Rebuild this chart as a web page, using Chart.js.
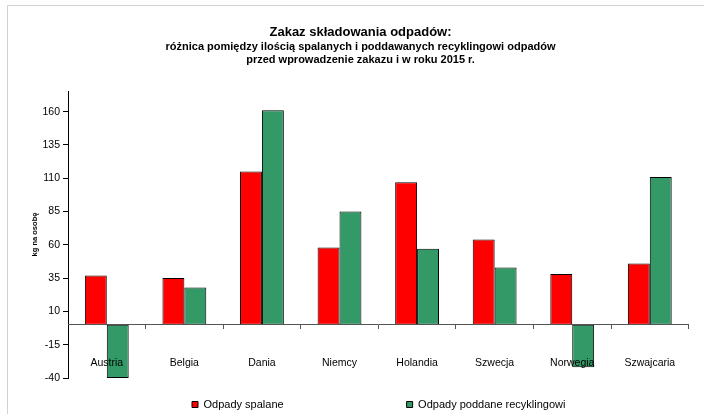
<!DOCTYPE html>
<html>
<head>
<meta charset="utf-8">
<script src="https://cdn.jsdelivr.net/npm/chart.js@4/dist/chart.umd.min.js"></script>
<style>
  html, body { margin: 0; padding: 0; background: #fff; }
  #wrap { position: relative; width: 704px; height: 414px; overflow: hidden; }
  #frame { position: absolute; left: 7px; top: 5px; width: 800px; height: 500px;
           border-left: 1px solid #d2d2d2; border-top: 1px solid #d2d2d2; }
  #c { position: absolute; left: 0; top: 0; }
</style>
</head>
<body>
<div id="wrap">
  <div id="frame"></div>
  <canvas id="c" width="704" height="414"></canvas>
</div>
<script>
const categories = ['Austria', 'Belgia', 'Dania', 'Niemcy', 'Holandia', 'Szwecja', 'Norwegia', 'Szwajcaria'];
const spalane = [37, 35, 115, 58, 107, 64, 38, 46];
const recykling = [-40, 28, 161, 85, 57, 43, -32, 111];
const yTicks = [-40, -15, 10, 35, 60, 85, 110, 135, 160];
const seriesNames = ['Odpady spalane', 'Odpady poddane recyklingowi'];
const titleText = 'Zakaz składowania odpadów:';
const subtitleText = ['różnica pomiędzy ilością spalanych i poddawanych recyklingowi odpadów',
                      'przed wprowadzenie zakazu i w roku 2015 r.'];
const yTitle = 'kg na osobę';

Chart.defaults.font.family = "'Liberation Sans', Arial, sans-serif";
Chart.defaults.color = '#000';

const legendPlace = {
  id: 'legendPlace',
  afterLayout(chart) {
    const lg = chart.legend;
    const pad = lg.options.labels.padding;
    lg.left = 192 - pad;
    lg.right = 704;
    lg.top = 399 - pad;
    lg.bottom = 414;
  }
};

new Chart(document.getElementById('c'), {
  type: 'bar',
  data: {
    labels: categories,
    datasets: [
      { label: seriesNames[0], data: spalane, backgroundColor: '#FF0000',
        borderColor: '#000', borderWidth: 1, borderSkipped: false },
      { label: seriesNames[1], data: recykling, backgroundColor: '#339966',
        borderColor: '#000', borderWidth: 1, borderSkipped: false }
    ]
  },
  plugins: [legendPlace],
  options: {
    responsive: false,
    devicePixelRatio: 1,
    animation: false,
    categoryPercentage: 0.565,
    barPercentage: 1.0,
    layout: { padding: { left: 30, right: 13, top: 0, bottom: 6 } },
    plugins: {
      tooltip: { enabled: false },
      title: {
        display: true, text: titleText, color: '#000',
        font: { size: 13, weight: 'bold', lineHeight: 1.1 },
        padding: { top: 25.5, bottom: 0 }
      },
      subtitle: {
        display: true, text: subtitleText, color: '#000',
        font: { size: 11, weight: 'bold', lineHeight: 1.2 },
        padding: { top: 0.5, bottom: 24.3 }
      },
      legend: {
        display: true, position: 'bottom', align: 'start', maxHeight: 30,
        labels: { boxWidth: 6, boxHeight: 6, padding: 123, color: '#000',
                  font: { size: 11 } }
      }
    },
    scales: {
      y: {
        min: -40, max: 175.5,
        afterBuildTicks: s => { s.ticks = yTicks.map(v => ({ value: v })); },
        afterFit: s => { s.width = 38; },
        border: { display: true, color: '#000', width: 1 },
        grid: { display: true, drawOnChartArea: false, drawTicks: true, tickLength: 5, color: '#000' },
        ticks: { padding: 3, color: '#000', font: { size: 10.5 } },
        title: { display: true, text: yTitle, color: '#000', padding: 0,
                 font: { size: 7.5, weight: 'bold' } }
      },
      x: {
        position: { y: 0 },
        border: { display: true, color: '#555', width: 1, z: 1 },
        grid: { display: true, drawOnChartArea: false, drawTicks: true, tickLength: 4, color: '#555', offset: true },
        ticks: { padding: 28, color: '#000', font: { size: 10.5 }, maxRotation: 0, z: 1 }
      }
    }
  }
});
</script>
</body>
</html>
